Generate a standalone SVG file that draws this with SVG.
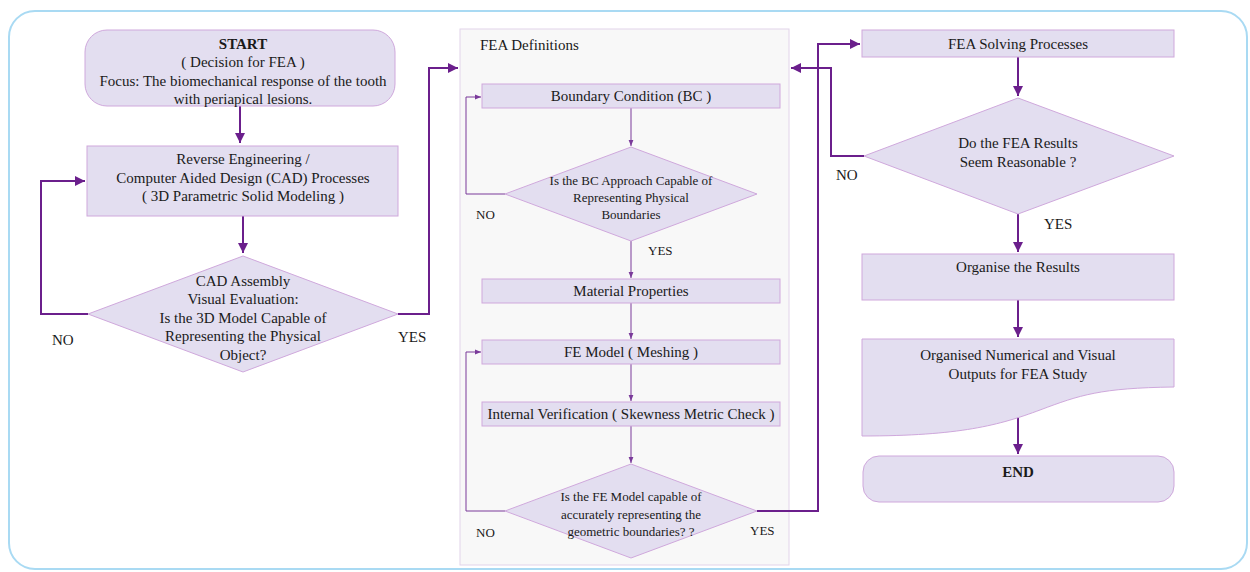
<svg xmlns="http://www.w3.org/2000/svg" width="1250" height="572" viewBox="0 0 1250 572">
<style>
.n{fill:#e3def0;stroke:#cfa8dc;stroke-width:1}
text{font-family:"Liberation Serif","Times New Roman",Times,"DejaVu Serif",serif;fill:#1a1a1a}
.t{font-size:15px;text-anchor:middle}
.s{font-size:13px;text-anchor:middle}
.l{font-size:15px}
.ls{font-size:13px}
.c{fill:none;stroke:#6b1f8c;stroke-width:2;marker-end:url(#a)}
.ct{fill:none;stroke:#7a3a9a;stroke-width:1;marker-end:url(#b)}
</style>
<defs>
<marker id="a" viewBox="0 0 10 10" refX="10" refY="5" markerWidth="5" markerHeight="5" orient="auto"><path d="M0,0L10,5L0,10z" fill="#6b1f8c"/></marker>
<marker id="b" viewBox="0 0 10 10" refX="10" refY="5" markerWidth="6" markerHeight="6" orient="auto"><path d="M0,1L10,5L0,9z" fill="#7a3a9a"/></marker>
</defs>
<rect x="9" y="11" width="1238" height="558" rx="26" fill="#fff" stroke="#a9daf3" stroke-width="2"/>
<g id="fea-defs">
<rect x="460" y="29" width="329" height="536" fill="#f8f8f8" stroke="#e2d4ea" stroke-width="1"/>
<text class="l" x="480" y="50">FEA Definitions</text>
</g>
<g id="connectors">
<path class="c" d="M240,106V143"/>
<path class="c" d="M243,216V253"/>
<path class="c" d="M88,314H41V181H85"/>
<path class="c" d="M398,314H429V68H458"/>
<path class="ct" d="M505,194H466V97H481"/>
<path class="ct" d="M631,108V146"/>
<path class="ct" d="M631,241V278"/>
<path class="ct" d="M631,303V339"/>
<path class="ct" d="M631,364V401"/>
<path class="ct" d="M631,426V463"/>
<path class="ct" d="M505,511H466V352H481"/>
<path class="c" d="M757,511H818V44H860"/>
<path class="c" d="M1018,57V96"/>
<path class="c" d="M864,156H831V68H791"/>
<path class="c" d="M1018,214V252"/>
<path class="c" d="M1018,300V337"/>
<path class="c" d="M1018,417V454"/>
</g>
<g id="start">
<rect class="n" x="85" y="30" width="310" height="76" rx="22"/>
<text class="t" x="243" y="49" font-weight="bold">START</text>
<text class="t" x="243" y="67">( Decision for FEA )</text>
<text class="t" x="243" y="86">Focus: The biomechanical response of the tooth</text>
<text class="t" x="243" y="104">with periapical lesions.</text>
</g>
<g id="cad">
<rect class="n" x="87" y="146" width="311" height="70"/>
<text class="t" x="243" y="164">Reverse Engineering /</text>
<text class="t" x="243" y="183">Computer Aided Design (CAD) Processes</text>
<text class="t" x="243" y="201">( 3D Parametric Solid Modeling )</text>
</g>
<g id="cad-check">
<polygon class="n" points="243,256 398,314 243,372 88,314"/>
<text class="t" x="243" y="286">CAD Assembly</text>
<text class="t" x="243" y="304">Visual Evaluation:</text>
<text class="t" x="243" y="323">Is the 3D Model Capable of</text>
<text class="t" x="243" y="341">Representing the Physical</text>
<text class="t" x="243" y="360">Object?</text>
</g>
<text class="l" x="52" y="345">NO</text>
<text class="l" x="398" y="342">YES</text>
<g id="bc">
<rect class="n" x="482" y="84" width="298" height="24"/>
<text class="t" x="631" y="101">Boundary Condition (BC )</text>
</g>
<g id="bc-check">
<polygon class="n" points="631,147 757,194 631,241 505,194"/>
<text class="s" x="631" y="185">Is the BC Approach Capable of</text>
<text class="s" x="631" y="202">Representing Physical</text>
<text class="s" x="631" y="219">Boundaries</text>
</g>
<text class="ls" x="476" y="219">NO</text>
<text class="ls" x="648" y="255">YES</text>
<g id="material">
<rect class="n" x="482" y="279" width="298" height="24"/>
<text class="t" x="631" y="296">Material Properties</text>
</g>
<g id="fe-model">
<rect class="n" x="482" y="340" width="298" height="24"/>
<text class="t" x="631" y="357">FE Model ( Meshing )</text>
</g>
<g id="internal">
<rect class="n" x="482" y="402" width="298" height="24"/>
<text class="t" x="631" y="419">Internal Verification ( Skewness Metric Check )</text>
</g>
<g id="fe-check">
<polygon class="n" points="631,464 757,511 631,558 505,511"/>
<text class="s" x="631" y="501">Is the FE Model capable of</text>
<text class="s" x="631" y="519">accurately representing the</text>
<text class="s" x="631" y="536">geometric boundaries? ?</text>
</g>
<text class="ls" x="476" y="537">NO</text>
<text class="ls" x="750" y="535">YES</text>
<g id="solving">
<rect class="n" x="862" y="30" width="312" height="27"/>
<text class="t" x="1018" y="49">FEA Solving Processes</text>
</g>
<g id="results-check">
<polygon class="n" points="1018,98 1174,156 1018,214 864,156"/>
<text class="t" x="1018" y="148">Do the FEA Results</text>
<text class="t" x="1018" y="167">Seem Reasonable ?</text>
</g>
<text class="l" x="836" y="180">NO</text>
<text class="l" x="1044" y="229">YES</text>
<g id="organise">
<rect class="n" x="862" y="254" width="312" height="46"/>
<text class="t" x="1018" y="272">Organise the Results</text>
</g>
<g id="outputs">
<path class="n" d="M862,339H1174V387C1100,388 1080,395 1040,410C1000,425 960,436 862,436Z"/>
<text class="t" x="1018" y="360">Organised Numerical and Visual</text>
<text class="t" x="1018" y="379">Outputs for FEA Study</text>
</g>
<g id="end">
<rect class="n" x="863" y="456" width="311" height="46" rx="16"/>
<text class="t" x="1018" y="477" font-weight="bold">END</text>
</g>
</svg>
